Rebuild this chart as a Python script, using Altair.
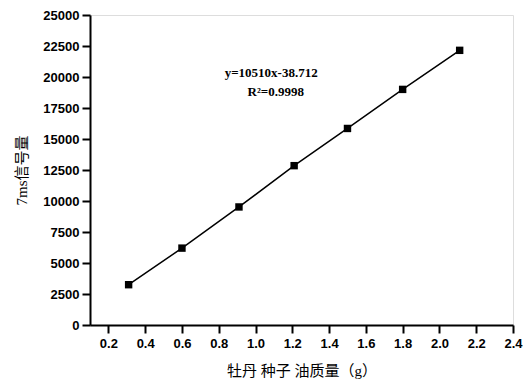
import altair as alt
import pandas as pd

oil_mass = [0.31, 0.60, 0.91, 1.21, 1.50, 1.80, 2.11]
signal = [3250, 6200, 9520, 12850, 15850, 19000, 22150]

eq_text = ["y=10510x-38.712", "R²=0.9998"]
eq_x = [1.085, 1.11]
eq_y = [20350, 18800]

x_ticks = [0.2, 0.4, 0.6, 0.8, 1.0, 1.2, 1.4, 1.6, 1.8, 2.0, 2.2, 2.4]
y_ticks = [0, 2500, 5000, 7500, 10000, 12500, 15000, 17500, 20000, 22500, 25000]

df = pd.DataFrame({"x": oil_mass, "y": signal})
tdf = pd.DataFrame({"t": eq_text, "x": eq_x, "y": eq_y})

xs = alt.Scale(domain=[0.1, 2.4], nice=False, zero=False)
ys = alt.Scale(domain=[0, 25000], nice=False)

xax = alt.Axis(values=x_ticks, format=".1f", title="牡丹 种子 油质量（g）",
               labelPadding=4, titlePadding=13)
yax = alt.Axis(values=y_ticks, format="d", title="7ms信号量",
               labelPadding=3, titlePadding=13)

X = alt.X("x:Q", scale=xs, axis=xax)
Y = alt.Y("y:Q", scale=ys, axis=yax)

line = alt.Chart(df).mark_line(color="#000", strokeWidth=1.5).encode(x=X, y=Y)
pts = alt.Chart(df).mark_point(shape="square", filled=True, color="#000", size=55, opacity=1).encode(x=X, y=Y)
txt = alt.Chart(tdf).mark_text(font="Liberation Serif", fontWeight="bold", fontSize=13,
                               color="#000", align="center", baseline="middle").encode(
    x=X, y=Y, text="t:N",
)

chart = (line + pts + txt).properties(
    width=423, height=310,
    autosize=alt.AutoSizeParams(type="none"),
    padding={"left": 82, "top": 7, "right": 10, "bottom": 58},
).configure_view(stroke=None).configure(background="white").configure_axis(
    grid=False, labelFont="Liberation Sans", labelFontWeight="bold", labelFontSize=13,
    labelColor="#000", tickColor="#000", domainColor="#000",
    domainWidth=2, tickWidth=2, tickSize=8, labelOverlap=False, labelBound=False,
    labelFlush=False, titleFont="Liberation Serif, Noto Sans CJK SC",
    titleFontWeight="normal", titleFontSize=15, titleColor="#000",
)

chart.save("out.html", embed_options={"renderer": "svg", "actions": False})
